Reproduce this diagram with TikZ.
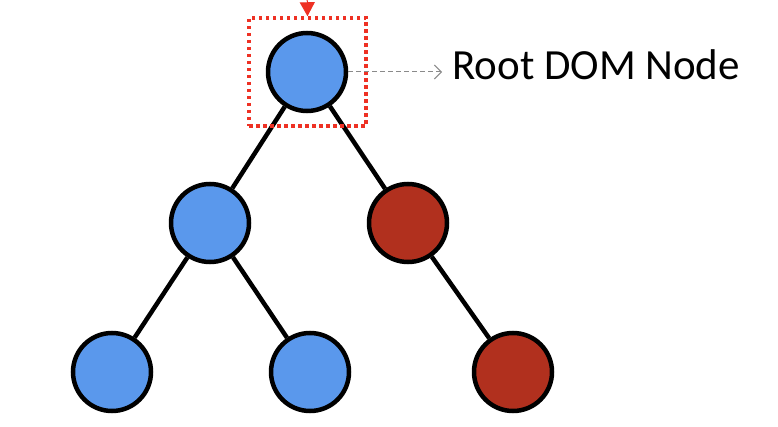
\documentclass[tikz,border=0pt]{standalone}
\usepackage{fontspec}
\setmainfont{Carlito}
\usetikzlibrary{arrows.meta}
\definecolor{domblue}{HTML}{5A98EC}
\definecolor{domred}{HTML}{B1301E}
\definecolor{markred}{HTML}{EE3124}
\definecolor{hint}{HTML}{8A8A8A}
\tikzset{
  blob/.style={circle,draw=black,line width=4.5pt,minimum size=78pt,inner sep=0},
  blue/.style={blob,fill=domblue},
  red/.style={blob,fill=domred},
  edge/.style={black,line width=4.5pt}
}

\begin{document}
\begin{tikzpicture}[x=1pt,y=1pt]
\useasboundingbox (0,0) rectangle (778,426);
% tree
\node[blue] (root) at (307,354) {};
\node[blue] (left) at (210,203) {};
\node[red] (right) at (408,203) {};
\node[blue] (leftleft) at (112,54) {};
\node[blue] (leftright) at (310,54) {};
\node[red] (rightright) at (513,54) {};
\draw[edge] (root) -- (left);
\draw[edge] (root) -- (right);
\draw[edge] (left) -- (leftleft);
\draw[edge] (left) -- (leftright);
\draw[edge] (right) -- (rightright);
% highlight box and label
\node[draw=markred,line width=3.5pt,dash pattern=on 3.5pt off 3.5pt,minimum width=117pt,minimum height=108pt,inner sep=0] (rootbox) at (307.5,354) {};
\coordinate (from) at (307,440);
\draw[markred,line width=1pt,-{Triangle[length=14pt,width=15pt]}] (from) -- (rootbox.north);
\node[anchor=base west,inner sep=0,font=\fontsize{43}{50}\selectfont] (label) at (452,346) {Root DOM Node};
\draw[hint,line width=1pt,dash pattern=on 5pt off 3pt,-{Straight Barb[length=7pt,width=14pt]}] (root.east) -- (root -| label.west) [shorten >=10pt];
\end{tikzpicture}
\end{document}
